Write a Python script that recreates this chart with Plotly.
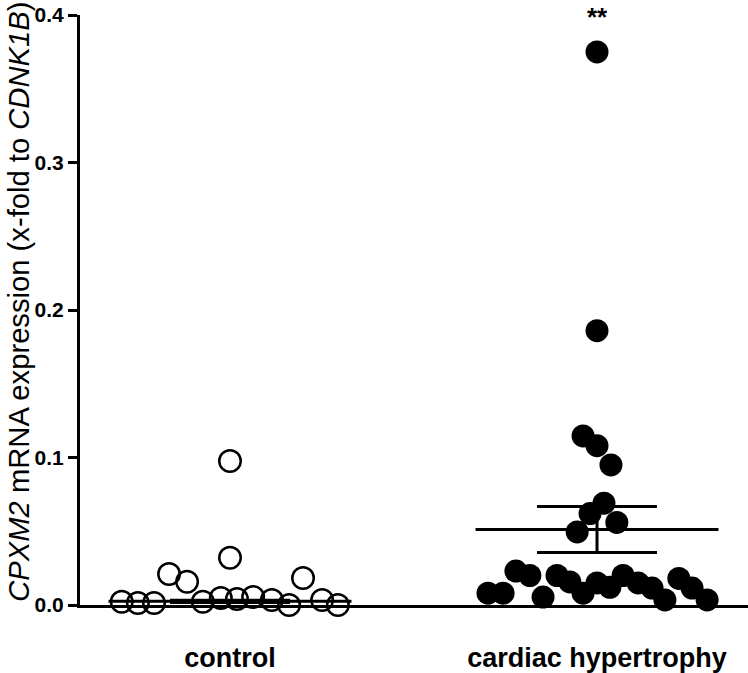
import plotly.graph_objects as go

# ---- data ----
categories = ["control", "cardiac hypertrophy"]

control_values = [0.0022, 0.0014, 0.0014, 0.021, 0.0158, 0.0022, 0.0047, 0.0976,
                  0.032, 0.004, 0.0054, 0.0034, 0.0, 0.0183, 0.0034, 0.0]
control_jitter = [-0.295, -0.251, -0.207, -0.166, -0.117, -0.074, -0.025, 0.0,
                  0.0, 0.019, 0.063, 0.114, 0.161, 0.199, 0.251, 0.294]

hyper_values = [0.008, 0.008, 0.023, 0.020, 0.0054, 0.020, 0.0156, 0.008, 0.015,
                0.012, 0.020, 0.015, 0.0115, 0.0034, 0.018, 0.0115, 0.0034,
                0.1146, 0.108, 0.095, 0.069, 0.062, 0.056, 0.0495,
                0.375, 0.186]
hyper_jitter = [-0.297, -0.256, -0.221, -0.183, -0.147, -0.109, -0.074, -0.038, 0.0,
                0.035, 0.071, 0.112, 0.150, 0.185, 0.223, 0.259, 0.300,
                -0.038, 0.0, 0.038, 0.019, -0.019, 0.054, -0.054,
                0.0, 0.0]

group_means = [0.0025, 0.0512]
group_sems = [0.0008, 0.0156]

y_ticks = [0.0, 0.1, 0.2, 0.3, 0.4]
y_tick_labels = ["0.0", "0.1", "0.2", "0.3", "0.4"]
significance = "**"

# ---- figure ----
FONT = "Liberation Sans, Arial, sans-serif"
MEAN_HALF = 0.331
fig = go.Figure()

# mean lines
for i, m in enumerate(group_means):
    fig.add_trace(go.Scatter(
        x=[i - MEAN_HALF, i + MEAN_HALF], y=[m, m], mode="lines",
        line=dict(color="black", width=3), showlegend=False, hoverinfo="skip",
        cliponaxis=False))

# SEM error bars
fig.add_trace(go.Scatter(
    x=[0, 1], y=group_means, mode="markers",
    marker=dict(size=1, color="rgba(0,0,0,0)"),
    error_y=dict(type="data", array=group_sems, visible=True,
                 color="black", thickness=3, width=60),
    showlegend=False, hoverinfo="skip", cliponaxis=False))

# control (open circles)
fig.add_trace(go.Scatter(
    x=[0 + j for j in control_jitter], y=control_values, mode="markers",
    marker=dict(symbol="circle-open", size=21.5, color="black",
                line=dict(width=2.5, color="black")),
    showlegend=False, cliponaxis=False, name=categories[0]))

# hypertrophy (filled circles)
fig.add_trace(go.Scatter(
    x=[1 + j for j in hyper_jitter], y=hyper_values, mode="markers",
    marker=dict(symbol="circle", size=23, color="black", line=dict(width=0)),
    showlegend=False, cliponaxis=False, name=categories[1]))

fig.add_annotation(
    x=1, xref="x", y=1.0254, yref="paper", text="<b>" + significance + "</b>",
    showarrow=False, yanchor="top", yshift=0,
    font=dict(family=FONT, size=26, color="black"))

fig.add_annotation(
    x=-0.0913, xref="paper", y=0.514, yref="paper",
    text="<i>CPXM2</i> mRNA expression (x-fold to <i>CDNK1B</i>)",
    textangle=-90, showarrow=False, xanchor="center", yanchor="middle",
    font=dict(family=FONT, size=29.2, color="black"))

fig.update_layout(
    width=748, height=673,
    margin=dict(l=80, r=0, t=15, b=68),
    paper_bgcolor="white", plot_bgcolor="white",
    font=dict(family=FONT, color="black"),
    xaxis=dict(range=[-0.4087, 1.4114], tickvals=[0, 1],
               ticktext=["<b>" + c + "</b>" for c in categories],
               tickfont=dict(family=FONT, size=27, color="black"),
               ticks="", ticklabelstandoff=27, automargin=False,
               showline=True, linecolor="black", linewidth=3,
               showgrid=False, zeroline=False, fixedrange=True),
    yaxis=dict(range=[0, 0.4], tickvals=y_ticks,
               ticktext=["<b>" + t + "</b>" for t in y_tick_labels],
               tickfont=dict(family=FONT, size=21, color="black"),
               ticks="outside", ticklen=9, tickwidth=3, tickcolor="black",
               automargin=False,
               showline=True, linecolor="black", linewidth=3,
               showgrid=False, zeroline=False, fixedrange=True),
)

# remove the default 8px page margin so the figure fills the window exactly
fig.write_html("out.html",
               config={"displayModeBar": False},
               post_script="document.body.style.margin='0px';"
                           "document.body.style.overflow='hidden';")
